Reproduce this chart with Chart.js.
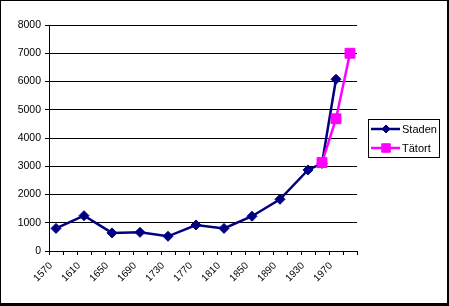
<!DOCTYPE html>
<html>
<head>
<meta charset="utf-8">
<script src="https://cdn.jsdelivr.net/npm/chart.js@4"></script>
<style>
  html, body { margin: 0; padding: 0; background: #fff; }
  #wrap { width: 449px; height: 306px; }
</style>
</head>
<body>
<div id="wrap"><canvas id="chart" width="449" height="306"></canvas></div>
<script>
// years every 20 steps, only every other one gets a label
var years = [1570, 1590, 1610, 1630, 1650, 1670, 1690, 1710, 1730, 1750, 1770,
             1790, 1810, 1830, 1850, 1870, 1890, 1910, 1930, 1950, 1970, 1990];
var staden = [800, null, 1250, null, 640, null, 660, null, 520, null, 920,
              null, 800, null, 1230, null, 1830, null, 2870, 3100, 6080, null];
var tatort = [null, null, null, null, null, null, null, null, null, null, null,
              null, null, null, null, null, null, null, null, 3130, 4680, 7000];
var yTicks = [0, 1000, 2000, 3000, 4000, 5000, 6000, 7000, 8000];

var FONT = "'Liberation Sans', Arial, sans-serif";

// draws the Excel style legend box and the outer frame
const frameAndLegend = {
  id: "frameAndLegend",
  beforeDraw(chart) {
    let ctx = chart.ctx;
    ctx.save();
    ctx.fillStyle = "#fff";
    ctx.fillRect(0, 0, chart.width, chart.height);
    ctx.restore();
  },
  afterDraw(chart) {
    let ctx = chart.ctx;
    ctx.save();
    ctx.strokeStyle = "#000";
    ctx.lineWidth = 1;
    ctx.strokeRect(368.5, 119.5, 71, 38);

    chart.data.datasets.forEach(function (ds, i) {
      let y = 129 + i * 19;
      ctx.strokeStyle = ds.borderColor;
      ctx.lineWidth = ds.borderWidth;
      ctx.beginPath();
      ctx.moveTo(371, y);
      ctx.lineTo(400, y);
      ctx.stroke();
      ctx.fillStyle = ds.backgroundColor;
      ctx.strokeStyle = ds.borderColor;
      ctx.lineWidth = 1;
      Chart.helpers.drawPoint(ctx, {
        pointStyle: ds.pointStyle,
        rotation: 0,
        radius: ds.legendRadius,
        borderWidth: 1,
      }, 386, y);
      ctx.fillStyle = "#000";
      ctx.font = "11px " + FONT;
      ctx.textBaseline = "middle";
      ctx.textAlign = "left";
      ctx.fillText(ds.label, 402, y + 1);
    });

    // outer frame, heavier on the right and bottom
    ctx.fillStyle = "#000";
    ctx.fillRect(0, 0, 449, 1);
    ctx.fillRect(0, 0, 1, 306);
    ctx.fillRect(447, 0, 2, 306);
    ctx.fillRect(0, 303, 449, 3);
    ctx.restore();
  },
};

let canvas = document.getElementById("chart").getContext("2d");
let popChart = new Chart(canvas, {
  type: "line",
  data: {
    labels: years,
    datasets: [
      {
        label: "Staden",
        data: staden,
        borderColor: "#000080",
        backgroundColor: "#000080",
        borderWidth: 2.5,
        pointStyle: "rectRot",
        pointRadius: 5,
        legendRadius: 4,
        pointBorderWidth: 1,
        spanGaps: true,
        tension: 0,
        order: 1,
      },
      {
        label: "Tätort",
        data: tatort,
        borderColor: "#ff00ff",
        backgroundColor: "#ff00ff",
        borderWidth: 2.5,
        pointStyle: "rect",
        pointRadius: 7,
        legendRadius: 6,
        pointBorderWidth: 1,
        spanGaps: true,
        tension: 0,
        order: 0,
      },
    ],
  },
  options: {
    responsive: false,
    animation: false,
    layout: {
      padding: { left: 0, top: 25, right: 92, bottom: 0 },
    },
    plugins: {
      legend: { display: false },
      tooltip: { enabled: false },
    },
    scales: {
      x: {
        type: "category",
        offset: true,
        afterFit: function (scale) {
          scale.height = 55;
        },
        border: { display: true, color: "#000", width: 1 },
        grid: {
          offset: true,
          drawOnChartArea: false,
          drawTicks: true,
          tickLength: 4,
          color: "#000",
        },
        ticks: {
          autoSkip: false,
          maxRotation: 45,
          minRotation: 45,
          labelOffset: -5,
          padding: 5,
          color: "#000",
          font: { family: FONT, size: 10 },
          callback: function (value, index) {
            return index % 2 === 0 ? String(years[index]) : "";
          },
        },
      },
      y: {
        min: 0,
        max: 8000,
        afterFit: function (scale) {
          scale.width = 49;
        },
        afterBuildTicks: function (scale) {
          scale.ticks = yTicks.map(function (v) { return { value: v }; });
        },
        border: { display: true, color: "#000", width: 1 },
        grid: {
          color: "#000",
          lineWidth: 1,
          drawTicks: true,
          tickLength: 4,
        },
        ticks: {
          padding: 4,
          color: "#000",
          font: { family: FONT, size: 10.5 },
          callback: function (value) { return String(value); },
        },
      },
    },
  },
  plugins: [frameAndLegend],
});
</script>
</body>
</html>
